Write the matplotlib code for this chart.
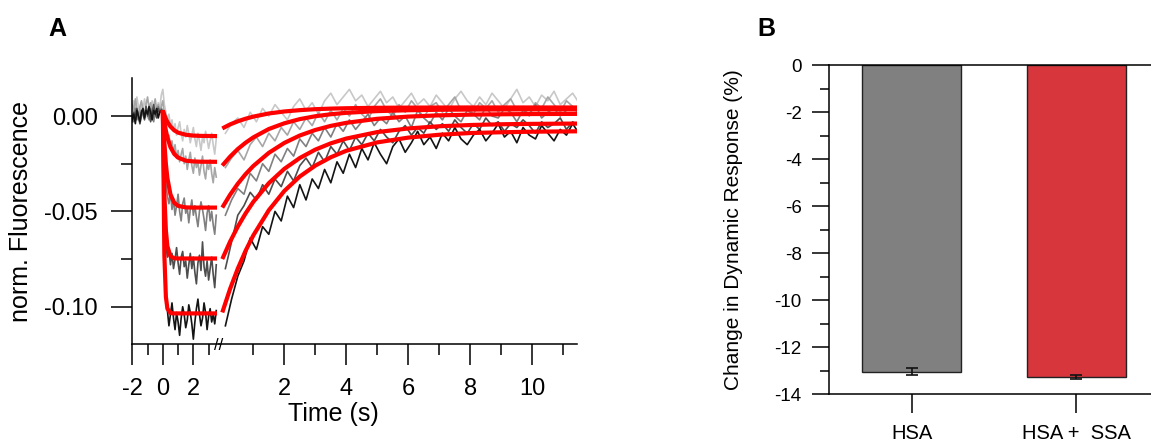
import numpy as np
import matplotlib.pyplot as plt

plt.rcParams['font.family'] = ['Liberation Sans', 'DejaVu Sans']
plt.rcParams['axes.unicode_minus'] = False

# ---- panel A data (fluorescence in units of 1e-3) ----
# sample times before the axis break and after it (s)
t_pre = np.round(np.arange(-2.0, 3.55, 0.1), 2)
t_post = np.linspace(0.1, 11.5, 58)

trace1_pre = [4, 8, 2, 10, 5, 1, 7, 3, 9, 4, -1, 6, 2, 8, 3, 5, 0, 7, 4, 11,
              14,
              6, 2, -3, 1, -5, -2, -8, -4, -10, -6, -3, -9, -13, -7, -11, -5, -9, -14, -10, -6,
              -12, -16, -9, -13, -18, -11, -14, -8, -12, -17, -13, -9, -15, -20, -12]
trace2_pre = [6, 2, 9, 4, -1, 5, 8, 3, 0, 6, 10, 4, 7, 1, 5, 9, 3, 6, 2, 5,
              8,
              0, -8, -12, -10, -16, -13, -19, -15, -22, -18, -24, -20, -17, -25, -21, -28, -23, -19, -26, -30,
              -22, -27, -24, -31, -26, -21, -29, -33, -25, -28, -23, -30, -35, -27, -32]
trace3_pre = [1, -3, 4, -2, 2, -4, 0, 3, -1, 5, 2, -2, 4, 1, -3, 3, 0, 5, 2, 4,
              3,
              -20, -35, -42, -46, -40, -49, -44, -52, -47, -41, -50, -55, -46, -43, -51, -48, -56, -49, -44, -52,
              -47, -53, -58, -50, -45, -49, -54, -60, -51, -47, -55, -50, -57, -62, -52]
trace4_pre = [-3, 2, -1, 4, 0, -4, 3, 1, -2, 5, 0, 3, -3, 2, 6, 1, -1, 4, 2, 3,
              2,
              -45, -68, -74, -70, -78, -72, -80, -75, -69, -77, -83, -74, -71, -79, -76, -85, -78, -72, -80, -74,
              -82, -88, -77, -73, -81, -66, -79, -84, -76, -86, -80, -74, -83, -90, -78]
trace5_pre = [-2, 1, -4, 3, 0, -3, 2, 4, -1, 3, 1, 5, 2, -2, 3, 1, 4, -1, 2, 3,
              2,
              -60, -95, -102, -110, -104, -98, -106, -112, -103, -108, -115, -106, -100, -104, -111, -107, -99, -103, -109, -117,
              -108, -101, -96, -104, -110, -106, -98, -103, -112, -105, -101, -108, -104, -109, -102]

trace1_post = [-9, -4, -1, -6, 2, -3, 4, 0, 6, 2, -2, 5, 9, 3, 7, 1, 8, 12, 6, 10,
               14, 8, 11, 5, 9, 13, 7, 10, 4, 8, 12, 6, 9, 5, 11, 7, 3, 9, 13, 8,
               5, 10, 6, 12, 8, 4, 9, 14, 7, 10, 5, 11, 8, 13, 6, 9, 12, 7]
trace2_post = [-27, -22, -18, -23, -15, -11, -16, -9, -13, -6, -10, -3, -7, -1, -5, 2, -3, 3, -2, 4,
               0, 6, 1, -2, 5, 9, 3, 0, 6, 2, 8, 4, -1, 5, 7, 2, 6, 10, 3, 5,
               1, 7, 4, 8, 2, 6, 9, 3, 5, 0, 7, 4, 10, 6, 2, 8, 5, 3]
trace3_post = [-52, -44, -38, -41, -30, -34, -25, -29, -20, -24, -17, -21, -12, -16, -9, -13, -6, -11, -4, -8,
               -2, -7, -3, 1, -5, -1, -4, 2, -3, 0, -6, 3, -1, -4, 2, -2, 4, 0, -3, 3,
               1, -2, 5, 0, -1, 4, 2, -3, 3, 1, 6, -1, 2, 4, 0, 3, 5, 1]
trace4_post = [-80, -66, -52, -47, -40, -44, -36, -41, -33, -37, -29, -34, -26, -22, -27, -19, -24, -16, -20, -13,
               -18, -11, -15, -9, -13, -7, -11, -14, -8, -5, -10, -6, -9, -3, -7, -4, -8, -2, -6, -9,
               -4, -7, -1, -5, -3, -8, -4, -6, -2, -5, -9, -3, -6, -4, -1, -7, -3, -5]
trace5_post = [-110, -96, -84, -76, -64, -70, -58, -62, -50, -55, -42, -48, -36, -44, -33, -38, -28, -35, -24, -30,
               -20, -27, -17, -23, -14, -20, -25, -16, -12, -19, -14, -8, -15, -11, -17, -9, -13, -6, -12, -15,
               -10, -7, -13, -9, -4, -11, -8, -14, -6, -10, -12, -5, -9, -13, -7, -10, -4, -9]

traces_pre = [trace1_pre, trace2_pre, trace3_pre, trace4_pre, trace5_pre]
traces_post = [trace1_post, trace2_post, trace3_post, trace4_post, trace5_post]
trace_colors = ['#c8c8c8', '#a6a6a6', '#808080', '#4d4d4d', '#141414']

# exponential fits (red), same units
fit_t_pre = [0, 0.1, 0.2, 0.3, 0.5, 0.75, 1.0, 1.5, 2.0, 2.5, 3.55]
fit1_pre = [3, 0.55, -1.45, -3.1, -5.5, -7.5, -8.7, -9.8, -10.25, -10.4, -10.5]
fit2_pre = [3, -3.0, -7.6, -11.3, -16.3, -19.9, -21.8, -23.4, -23.8, -23.95, -24]
fit3_pre = [3, -13.8, -25.1, -32.6, -41.1, -45.5, -47.1, -47.9, -48, -48, -48]
fit4_pre = [3, -40.9, -60.0, -68.3, -73.5, -74.55, -74.7, -74.7, -74.7, -74.7, -74.7]
fit5_pre = [3, -73.0, -94.8, -101.0, -103.3, -103.5, -103.5, -103.5, -103.5, -103.5, -103.5]

fit_t_post = [0, 0.25, 0.5, 0.75, 1, 1.5, 2, 2.5, 3, 3.5, 4, 5, 6, 7, 8, 9, 10, 11.45]
fit1_post = [-6.5, -4.4, -2.75, -1.4, -0.3, 1.35, 2.4, 3.1, 3.6, 3.9, 4.1, 4.33, 4.43, 4.47, 4.5, 4.5, 4.5, 4.5]
fit2_post = [-26, -21.3, -17.3, -14.0, -11.2, -6.8, -3.8, -1.6, -0.1, 0.95, 1.7, 2.6, 3.05, 3.3, 3.4, 3.45, 3.5, 3.5]
fit3_post = [-48, -41.3, -35.5, -30.5, -26.2, -19.3, -14.1, -10.2, -7.3, -5.15, -3.55, -1.44, -0.28, 0.38, 0.74, 0.94, 1.06, 1.14]
fit4_post = [-75, -65.9, -58.0, -51.1, -45.0, -35.2, -27.7, -22.0, -17.6, -14.3, -11.8, -8.4, -6.5, -5.35, -4.7, -4.3, -4.1, -3.94]
fit5_post = [-103, -90.7, -80.0, -70.7, -62.6, -49.4, -39.3, -31.7, -26.0, -21.6, -18.2, -13.8, -11.3, -9.8, -8.9, -8.5, -8.2, -8.0]

fits_pre = [fit1_pre, fit2_pre, fit3_pre, fit4_pre, fit5_pre]
fits_post = [fit1_post, fit2_post, fit3_post, fit4_post, fit5_post]

# ---- panel B data ----
groups = ['HSA', 'HSA +  SSA']
change = [-13.04, -13.27]
change_err = [0.15, 0.10]
bar_colors = ['#808080', '#d7363d']

W, H = 1151, 446
fig = plt.figure(figsize=(W / 100, H / 100), dpi=100)


def rect(x0, y0, x1, y1):
    # pixel box -> figure fraction
    return [x0 / W, 1 - y1 / H, (x1 - x0) / W, (y1 - y0) / H]


ax1 = fig.add_axes(rect(132.3, 78.3, 219, 344.3))
ax2 = fig.add_axes(rect(219, 78.3, 577.3, 344.3))

for y, c in zip(traces_pre, trace_colors):
    ax1.plot(t_pre, np.array(y) / 1000, color=c, lw=1.2)
for y, c in zip(traces_post, trace_colors):
    ax2.plot(t_post, np.array(y) / 1000, color=c, lw=1.2)
for y in fits_pre:
    ax1.plot(fit_t_pre, np.array(y) / 1000, color='#ff0000', lw=3.0,
             solid_joinstyle='round', solid_capstyle='butt')
for y in fits_post:
    ax2.plot(fit_t_post, np.array(y) / 1000, color='#ff0000', lw=3.0,
             solid_joinstyle='round', solid_capstyle='butt')

for ax in (ax1, ax2):
    ax.set_ylim(-0.1197, 0.0198)
    ax.spines['top'].set_visible(False)
    ax.spines['right'].set_visible(False)
    ax.spines['bottom'].set_linewidth(1.1)
    ax.spines['left'].set_linewidth(1.1)
    ax.patch.set_alpha(0)
    ax.tick_params(axis='x', which='major', length=15, width=1.1, pad=9, labelsize=17)
    ax.tick_params(axis='x', which='minor', length=8, width=1.1)

ax1.set_xlim(-2, 3.68)
ax1.set_xticks([-2, 0, 2])
ax1.set_xticks([-1, 1, 3], minor=True)
ax1.set_yticks([-0.10, -0.05, 0.0])
ax1.set_yticklabels(['-0.10', '-0.05', '0.00'])
ax1.set_yticks([-0.075, -0.025], minor=True)
ax1.tick_params(axis='y', which='major', length=15, width=1.1, pad=10, labelsize=17)
ax1.tick_params(axis='y', which='minor', length=8, width=1.1)

ax2.set_xlim(-0.106, 11.45)
ax2.set_xticks([2, 4, 6, 8, 10])
ax2.set_xticks([1, 3, 5, 7, 9, 11], minor=True)
ax2.spines['left'].set_visible(False)
ax2.set_yticks([])

fig.text(219 / W, 1 - 346 / H, '//', ha='center', va='center', fontsize=12)
fig.text(333 / W, 1 - 414 / H, 'Time (s)', ha='center', va='center', fontsize=18)
fig.text(21 / W, 1 - 211 / H, 'norm. Fluorescence', ha='center', va='center',
         rotation=90, fontsize=18)
fig.text(57 / W, 1 - 29 / H, 'A', ha='center', va='center', fontsize=18, fontweight='bold')

# ---- panel B ----
axb = fig.add_axes(rect(829.3, 65, 1158.6, 394.3))
xpos = np.arange(len(groups))
axb.bar(xpos, change, width=0.6, color=bar_colors, edgecolor='#222222', linewidth=1.0)
axb.errorbar(xpos, change, yerr=change_err, fmt='none', ecolor='#111111',
             elinewidth=1.2, capsize=4, capthick=1.2)
axb.set_xlim(-0.5, 1.5)
axb.set_ylim(-14, 0)
axb.set_xticks(xpos)
axb.set_xticklabels(groups)
axb.set_yticks(np.arange(-14, 1, 2))
axb.set_yticklabels([str(v) for v in range(-14, 1, 2)])
axb.set_yticks(np.arange(-13, 0, 2), minor=True)
axb.tick_params(axis='y', which='major', length=12, width=1.1, pad=8, labelsize=13.5)
axb.tick_params(axis='y', which='minor', length=6.5, width=1.1)
axb.tick_params(axis='x', which='major', length=13.5, width=1.1, pad=8, labelsize=14.5)
for s in axb.spines.values():
    s.set_linewidth(1.1)
axb.set_ylabel('Change in Dynamic Response (%)', fontsize=15)
axb.yaxis.set_label_coords((743 - 829.3) / 329.3, 0.5)

fig.text(766.7 / W, 1 - 29 / H, 'B', ha='center', va='center', fontsize=18, fontweight='bold')

fig.savefig('out.png', dpi=100)
